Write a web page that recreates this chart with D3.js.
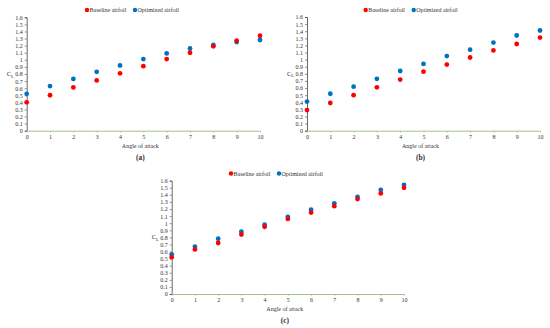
<!DOCTYPE html>
<meta charset="utf-8">
<script src="https://d3js.org/d3.v7.min.js"></script>
<style>
  body { margin: 0; background: #fff; }
  text { font-family: "Liberation Serif", "DejaVu Serif", serif; fill: #333; }
</style>
<svg id="chart" width="550" height="328"></svg>
<script>
    // angle of attack (x) and lift coefficient values
    const angles = [0, 1, 2, 3, 4, 5, 6, 7, 8, 9, 10];
    const yTicks = [0, 0.1, 0.2, 0.3, 0.4, 0.5, 0.6, 0.7, 0.8, 0.9, 1, 1.1, 1.2, 1.3, 1.4, 1.5, 1.6];

    const baselineA  = [0.40, 0.50, 0.61, 0.71, 0.81, 0.91, 1.01, 1.10, 1.19, 1.27, 1.34];
    const optimizedA = [0.52, 0.63, 0.73, 0.83, 0.92, 1.01, 1.09, 1.16, 1.21, 1.25, 1.28];

    const baselineB  = [0.29, 0.39, 0.50, 0.61, 0.72, 0.83, 0.93, 1.03, 1.13, 1.22, 1.31];
    const optimizedB = [0.41, 0.52, 0.62, 0.73, 0.84, 0.94, 1.05, 1.14, 1.24, 1.34, 1.41];

    const baselineC  = [0.52, 0.63, 0.72, 0.84, 0.95, 1.06, 1.15, 1.24, 1.34, 1.42, 1.50];
    const optimizedC = [0.56, 0.67, 0.78, 0.88, 0.98, 1.09, 1.19, 1.28, 1.37, 1.47, 1.54];

    const panelLabels = ["(a)", "(b)", "(c)"];
    const seriesNames = ["Baseline airfoil", "Optimized airfoil"];
    const colors = ["#ff0000", "#0070c0"];

    const svg = d3.select("#chart");

    // panel placement
    const panels = [
        { left: 26.7, right: 260, top: 17.3, bottom: 130.7, base: baselineA, opt: optimizedA, label: panelLabels[0], legX: 87, legY: 10, subY: 160 },
        { left: 307, right: 540, top: 17, bottom: 130.7, base: baselineB, opt: optimizedB, label: panelLabels[1], legX: 365.7, legY: 10, subY: 160 },
        { left: 171.7, right: 404, top: 180.7, bottom: 294, base: baselineC, opt: optimizedC, label: panelLabels[2], legX: 231, legY: 173.5, subY: 323 }
    ];

    panels.forEach(function (p) {
        const g = svg.append("g");
        const x = d3.scaleLinear().domain([0, 10]).range([p.left, p.right]);
        const y = d3.scaleLinear().domain([0, 1.6]).range([p.bottom, p.top]);

        // y axis
        const yAxis = g.append("g")
            .attr("transform", `translate(${p.left},0)`)
            .call(d3.axisLeft(y).tickValues(yTicks).tickSize(2).tickPadding(2)
                .tickFormat(d => d3.format("")(+d.toFixed(1))));
        yAxis.select(".domain").attr("stroke", "#444").attr("stroke-width", 0.8);
        yAxis.selectAll(".tick line").attr("stroke", "#444").attr("stroke-width", 0.6);
        yAxis.selectAll("text").attr("font-size", 6).attr("fill", "#333")
            .style("font-family", "'Liberation Serif', serif");

        // x axis
        const xAxis = g.append("g")
            .attr("transform", `translate(0,${p.bottom})`)
            .call(d3.axisBottom(x).tickValues(angles).tickSize(2).tickPadding(2).tickSizeOuter(0));
        xAxis.select(".domain").attr("stroke", "#a6c48a").attr("stroke-width", 1);
        xAxis.selectAll(".tick line").attr("stroke", "#a6c48a").attr("stroke-width", 0.7);
        xAxis.selectAll("text").attr("font-size", 6).attr("fill", "#333")
            .style("font-family", "'Liberation Serif', serif");

        // points
        [p.opt, p.base].forEach(function (vals, i) {
            const c = i === 0 ? colors[1] : colors[0];
            g.append("g").selectAll("circle")
                .data(vals)
                .enter()
                .append("circle")
                .attr("cx", (d, j) => x(angles[j]))
                .attr("cy", d => y(d))
                .attr("r", 2.4)
                .attr("fill", c);
        });

        // axis titles
        const cl = g.append("text")
            .attr("x", p.left - 20)
            .attr("y", (p.top + p.bottom) / 2 + 2)
            .attr("font-size", 6.5);
        cl.append("tspan").text("C");
        cl.append("tspan").text("L").attr("font-size", 4.5).attr("dy", 1.5);

        g.append("text")
            .attr("x", (p.left + p.right) / 2 - 3)
            .attr("y", p.bottom + 17)
            .attr("text-anchor", "middle")
            .attr("font-size", 6)
            .text("Angle of attack");

        g.append("text")
            .attr("x", (p.left + p.right) / 2 - 3)
            .attr("y", p.subY)
            .attr("text-anchor", "middle")
            .attr("font-size", 7.5)
            .attr("font-weight", "bold")
            .text(p.label);

        // legend
        const leg = g.append("g").attr("transform", `translate(${p.legX},${p.legY})`);
        leg.append("circle").attr("cx", 0).attr("cy", 0).attr("r", 2.2).attr("fill", colors[0]);
        leg.append("text").attr("x", 2.5).attr("y", 2).attr("font-size", 6).text(seriesNames[0]);
        leg.append("circle").attr("cx", 48).attr("cy", 0).attr("r", 2.2).attr("fill", colors[1]);
        leg.append("text").attr("x", 50.5).attr("y", 2).attr("font-size", 6).text(seriesNames[1]);
    });
</script>
